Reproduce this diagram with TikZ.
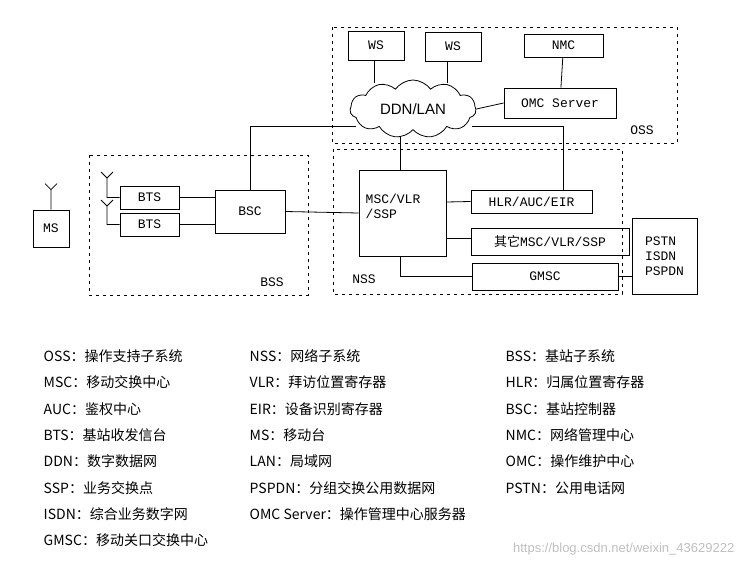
\documentclass[tikz,border=0pt]{standalone}
\usepackage{fontspec}
\setmainfont{Liberation Serif}
\newfontfamily\cjk{Noto Sans CJK SC}
\newfontfamily\mono{Liberation Mono}
\newfontfamily\sans{Liberation Sans}
\usetikzlibrary{shapes.symbols}
\begin{document}
\begin{tikzpicture}[x=1pt,y=-1pt,line width=0.8pt,
  box/.style={draw,font=\mono\fontsize{13}{15}\selectfont,inner sep=0pt},
  grp/.style={draw,dash pattern=on 3pt off 4pt},
  lbl/.style={font=\mono\fontsize{13}{15}\selectfont},
  leg/.style={anchor=west,font=\cjk\fontsize{14}{16}\selectfont}]
\useasboundingbox (0,0) rectangle (744,568);
% groups
\draw[grp] (332,27) rectangle (677,143);
\draw[grp] (89,155) rectangle (308,295);
\draw[grp] (333,149) rectangle (622,294);
\node[lbl] (oss) at (642,130) {OSS};
\node[lbl] (bss) at (272,282) {BSS};
\node[lbl] (nss) at (364,279) {NSS};
% OSS
\node[box,minimum width=56pt,minimum height=29pt] (ws1) at (376,45.5) {WS};
\node[box,minimum width=56pt,minimum height=29pt] (ws2) at (453,46.5) {WS};
\node[box,minimum width=79pt,minimum height=23pt] (nmc) at (563.5,45.5) {NMC};
\node[box,minimum width=112pt,minimum height=30pt] (omc) at (560,103) {OMC Server};
\node[cloud,draw,cloud puffs=11,cloud puff arc=110,aspect=2.2,minimum width=126pt,minimum height=58pt,inner sep=0pt,font=\sans\fontsize{15}{17}\selectfont] (cl) at (413,109) {DDN/LAN};
\draw (374,60) -- (374,83);
\draw (447,61) -- (447,83);
\draw (nmc) -- (omc);
\draw (cl.east) -- (omc.west);
% BSS
\node[box,minimum width=36pt,minimum height=37pt] (ms) at (51,228.5) {MS};
\node[box,minimum width=59pt,minimum height=23pt] (bts1) at (149.5,197.5) {BTS};
\node[box,minimum width=59pt,minimum height=23pt] (bts2) at (149.5,224.5) {BTS};
\node[box,minimum width=70pt,minimum height=43pt] (bsc) at (250,211.5) {BSC};
\draw (bts1.east) -- (bts1.east -| bsc.west);
\draw (bts2.east) -- (bts2.east -| bsc.west);
% antennas
\draw (ms.north) -- ++(0,-20) ++(-6,-6) -- ++(6,6) -- ++(6,-6);
\coordinate (a1) at (107,178);
\coordinate (a2) at (107,206);
\draw (bts1.west) -| (a1) ++(-6,-6) -- ++(6,6) -- ++(6,-6);
\draw (bts2.west) -| (a2) ++(-6,-6) -- ++(6,6) -- ++(6,-6);
% NSS
\node[box,minimum width=87pt,minimum height=86pt] (msc) at (402.5,213) {};
\node[lbl,anchor=north west,align=left] (msct) at (362,190) {MSC/VLR\\/SSP};
\node[box,minimum width=121pt,minimum height=23pt] (hlr) at (531.5,201.5) {HLR/AUC/EIR};
\node[box,minimum width=158pt,minimum height=27pt] (oth) at (550,241.5) {{\cjk 其它}MSC/VLR/SSP};
\node[box,minimum width=146pt,minimum height=27pt] (gmsc) at (545,276.5) {GMSC};
\node[box,minimum width=65pt,minimum height=76pt,align=left] (pstn) at (664.5,256) {PSTN\\ISDN\\PSPDN};
\draw (bsc.east) -- (msc.west);
\draw (446,202) -- (hlr.west);
\draw (446,238) -- (oth.west |- 0,238);
\draw (400,256) |- (gmsc.west);
\draw (gmsc.east) -- (gmsc.east -| pstn.west);
% connections to cloud
\coordinate (cl0) at (400,136);
\draw (cl0) -- (cl0 |- msc.north);
\coordinate (cl1) at (356,126);
\coordinate (cl2) at (472,126);
\draw (cl1) -- (250,126) -- (bsc.north);
\draw (cl2) -- (563,126) -- (563,190);
% legend
\foreach \t [count=\i] in {OSS：操作支持子系统,MSC：移动交换中心,AUC：鉴权中心,BTS：基站收发信台,DDN：数字数据网,SSP：业务交换点,ISDN：综合业务数字网,GMSC：移动关口交换中心}
  \node[leg] (la\i) at (40,330+26.3*\i) {\t};
\foreach \t [count=\i] in {NSS：网络子系统,VLR：拜访位置寄存器,EIR：设备识别寄存器,MS：移动台,LAN：局域网,PSPDN：分组交换公用数据网,OMC Server：操作管理中心服务器}
  \node[leg] (lb\i) at (246,330+26.3*\i) {\t};
\foreach \t [count=\i] in {BSS：基站子系统,HLR：归属位置寄存器,BSC：基站控制器,NMC：网络管理中心,OMC：操作维护中心,PSTN：公用电话网}
  \node[leg] (lc\i) at (502,330+26.3*\i) {\t};
\node[anchor=east,text=black!25,font=\sans\fontsize{13}{15}\selectfont] (wm) at (738,549) {https://blog.csdn.net/weixin\_43629222};
\end{tikzpicture}
\end{document}
